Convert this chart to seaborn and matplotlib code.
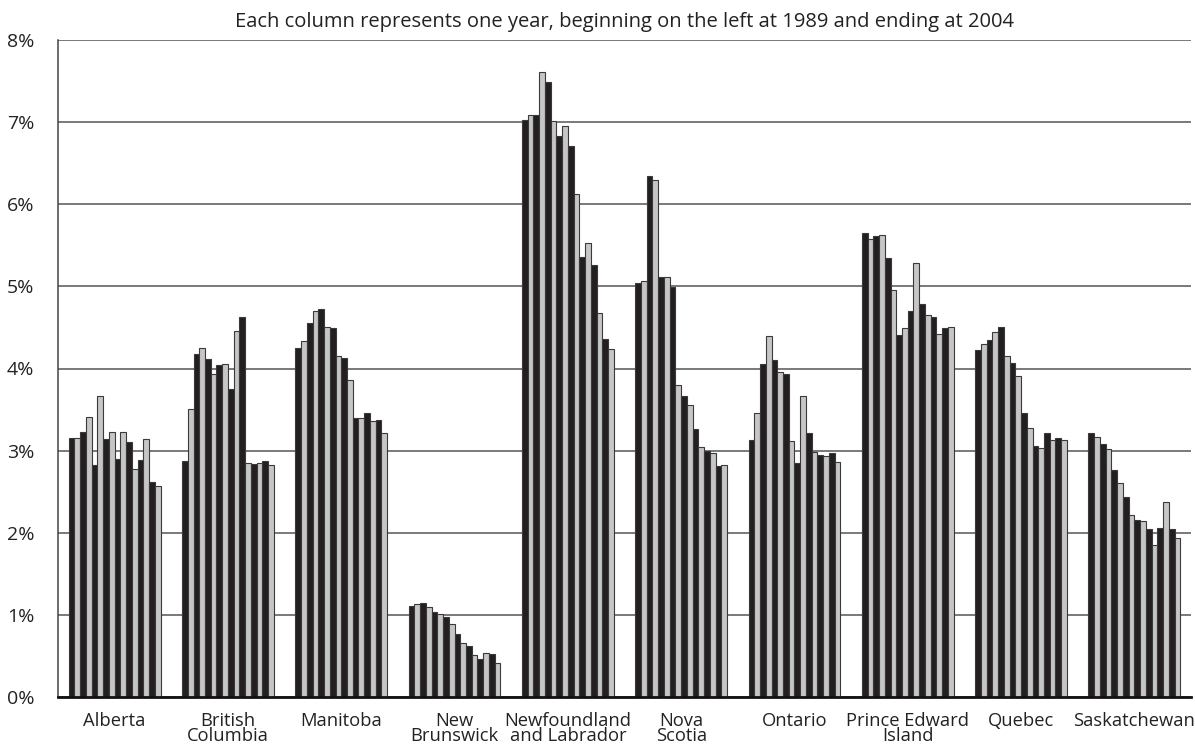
import numpy as np
import pandas as pd
import matplotlib
matplotlib.use("Agg")
import matplotlib.pyplot as plt
import seaborn as sns

# Provinces and the yearly values (percent), 1989 to 2004
provinces = ["Alberta", "British\nColumbia", "Manitoba", "New\nBrunswick",
             "Newfoundland\nand Labrador", "Nova\nScotia", "Ontario",
             "Prince Edward\nIsland", "Quebec", "Saskatchewan"]
years = list(range(1989, 2005))

alberta = [3.15, 3.15, 3.23, 3.41, 2.82, 3.67, 3.14, 3.23, 2.90, 3.23, 3.10, 2.78, 2.88, 3.14, 2.62, 2.57]
british_columbia = [2.87, 3.51, 4.18, 4.25, 4.12, 3.93, 4.04, 4.05, 3.75, 4.46, 4.63, 2.85, 2.84, 2.85, 2.87, 2.82]
manitoba = [4.25, 4.33, 4.55, 4.70, 4.72, 4.50, 4.49, 4.15, 4.13, 3.86, 3.40, 3.40, 3.46, 3.36, 3.37, 3.22]
new_brunswick = [1.11, 1.13, 1.14, 1.10, 1.04, 1.01, 0.97, 0.89, 0.77, 0.66, 0.62, 0.51, 0.46, 0.53, 0.52, 0.42]
newfoundland = [7.02, 7.09, 7.09, 7.61, 7.49, 7.01, 6.83, 6.95, 6.71, 6.12, 5.36, 5.53, 5.26, 4.68, 4.36, 4.24]
nova_scotia = [5.04, 5.06, 6.35, 6.29, 5.12, 5.12, 4.99, 3.80, 3.66, 3.56, 3.26, 3.05, 2.99, 2.97, 2.81, 2.82]
ontario = [3.13, 3.46, 4.06, 4.39, 4.10, 3.96, 3.93, 3.12, 2.85, 3.67, 3.21, 2.98, 2.95, 2.93, 2.97, 2.86]
pei = [5.65, 5.58, 5.61, 5.62, 5.35, 4.96, 4.41, 4.49, 4.70, 5.28, 4.79, 4.65, 4.63, 4.42, 4.49, 4.51]
quebec = [4.22, 4.30, 4.35, 4.44, 4.50, 4.15, 4.07, 3.91, 3.46, 3.27, 3.06, 3.03, 3.21, 3.13, 3.15, 3.13]
saskatchewan = [3.22, 3.16, 3.08, 3.02, 2.76, 2.60, 2.44, 2.22, 2.16, 2.14, 2.04, 1.85, 2.06, 2.37, 2.05, 1.93]

all_values = [alberta, british_columbia, manitoba, new_brunswick, newfoundland,
              nova_scotia, ontario, pei, quebec, saskatchewan]

rows = []
for prov, vals in zip(provinces, all_values):
    for yr, v in zip(years, vals):
        rows.append({"province": prov, "year": yr, "value": v})
df = pd.DataFrame(rows)

sns.set_style("white")
plt.rcParams['font.family'] = ['Open Sans', 'DejaVu Sans']

fig = plt.figure(figsize=(11.95, 7.44), dpi=100)
ax = fig.add_axes([58 / 1195, 1 - 697 / 744, (1191 - 58) / 1195, (697 - 40) / 744])

palette = ["#231f20", "#c6c6c6"] * 8
sns.barplot(data=df, x="province", y="value", hue="year", palette=palette,
            width=0.81, dodge=True, legend=False, ax=ax,
            edgecolor="#3a3a3a", linewidth=0.8, saturation=1)

ax.set_ylim(0, 8)
ax.set_xlim(-0.5, 9.5)
ax.set_yticks(range(0, 9))
ax.set_yticklabels([f"{i}%" for i in range(0, 9)])
ax.set_axisbelow(True)
ax.yaxis.grid(True, color="#555555", linewidth=1.1)
ax.xaxis.grid(False)

for side in ["top", "right"]:
    ax.spines[side].set_visible(False)
ax.spines["left"].set_color("#444444")
ax.spines["left"].set_linewidth(1.1)
ax.spines["bottom"].set_color("#111111")
ax.spines["bottom"].set_linewidth(2)

ax.tick_params(axis="y", length=0, pad=17, labelsize=14, labelcolor="#222222")
ax.tick_params(axis="x", length=0, pad=11, labelsize=13.2, labelcolor="#222222")
for lbl in ax.get_xticklabels():
    lbl.set_linespacing(0.8)
    lbl.set_verticalalignment("top")

ax.set_xlabel("")
ax.set_ylabel("")
ax.set_title("Each column represents one year, beginning on the left at 1989 and ending at 2004",
             fontsize=14.5, color="#222222", pad=9)

fig.savefig("out.png", dpi=100)
